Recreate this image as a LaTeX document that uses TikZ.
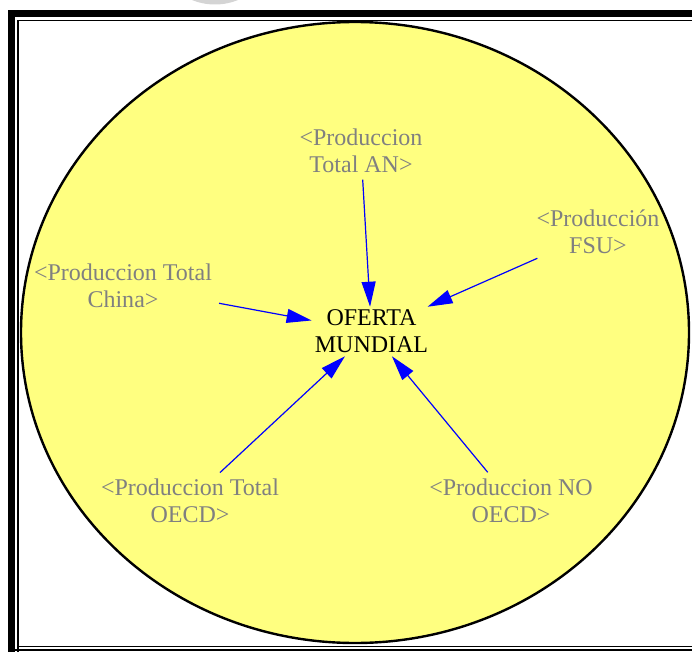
\documentclass[tikz,border=0pt]{standalone}
\usepackage{fontspec}
\setmainfont{Liberation Serif}
\usetikzlibrary{arrows.meta}
\definecolor{amarillo}{RGB}{255,255,128}
\definecolor{grisvar}{RGB}{128,128,128}
\begin{document}
\begin{tikzpicture}[x=1pt, y=-1pt, >={Triangle[length=25pt, width=14pt]},
		every node/.style={font=\fontsize{24}{27}\selectfont, align=center, inner sep=3pt},
		sombra/.style={text=grisvar},
		flecha/.style={->, blue, line width=1.2pt, shorten <=4pt}]
				\useasboundingbox (0,0) rectangle (692,652);
				% 1. marco
				\fill[black!17] (215,-56.5) circle (61);
				\fill[black] (8,10) rectangle (692,17);
				\fill[black] (8,10) rectangle (15,652);
				\draw[line width=1.4pt] (18,652) -- (18,20.5) -- (692,20.5);
				\draw[line width=1.4pt] (18,646.5) -- (692,646.5);
				\draw[line width=1.4pt] (15,650) -- (692,650);
				
				% 2. elipse de fondo
				\draw[fill=amarillo, line width=2.4pt] (355,332.5) ellipse (334 and 310.5);
				
				% 3. variables
				\node (oferta) at (371.5,331.5) {OFERTA\\MUNDIAL};
				\node[sombra] (an) at (361,150.5) {<Produccion\\Total AN>};
				\node[sombra] (fsu) at (598,231.5) {<Producción\\FSU>};
				\node[sombra] (china) at (123,285.5) {<Produccion Total\\China>};
				\node[sombra] (oecd) at (190,500.5) {<Produccion Total\\OECD>};
				\node[sombra] (nooecd) at (511,500.5) {<Produccion NO\\OECD>};
				
				% 4. flechas
				\draw[flecha] (an) -- (oferta);
				\draw[flecha] (fsu) -- (oferta);
				\draw[flecha] (china) -- (oferta);
				\draw[flecha] (oecd) -- (oferta);
				\draw[flecha] (nooecd) -- (oferta);
			\end{tikzpicture}
\end{document}
